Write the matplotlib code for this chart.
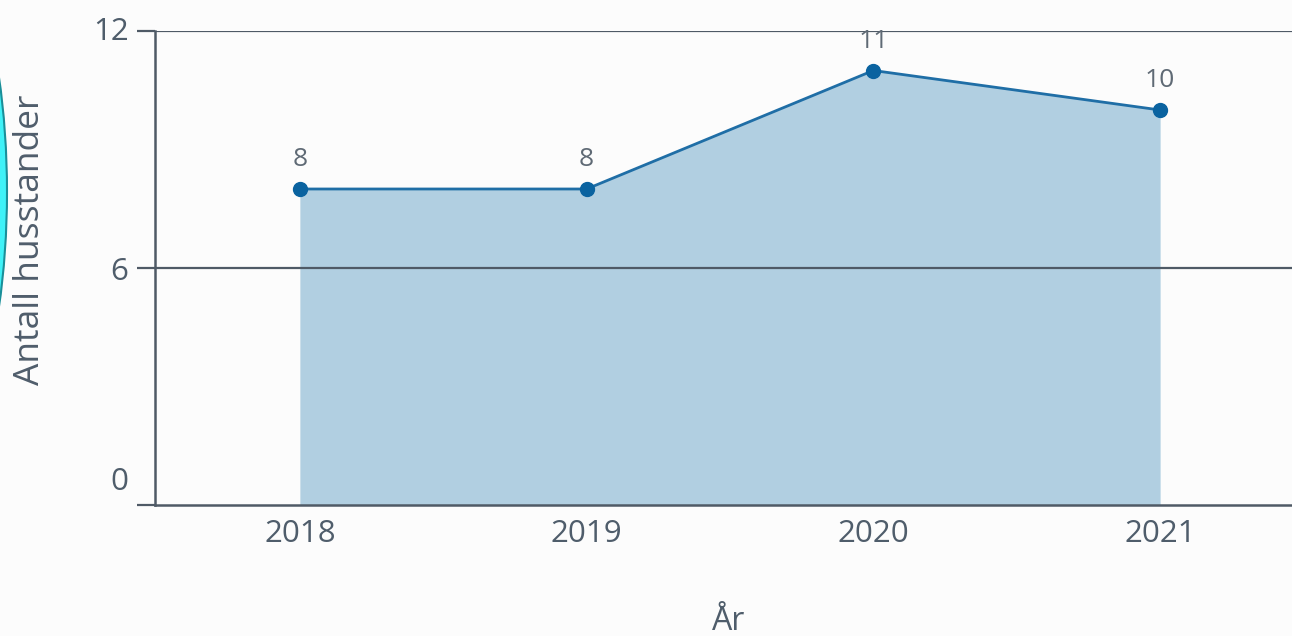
import matplotlib
matplotlib.use("Agg")
import matplotlib.pyplot as plt
from matplotlib.patches import Ellipse
from matplotlib.transforms import ScaledTranslation

years = [2018, 2019, 2020, 2021]
values = [8, 8, 11, 10]
yticks = [0, 6, 12]
ylabel = "Antall husstander"
xlabel = "År"

W, H = 1292, 636
plt.rcParams['font.family'] = ['Open Sans', 'DejaVu Sans']
fig = plt.figure(figsize=(W/100, H/100), dpi=100, facecolor='#fcfcfc')
ax = fig.add_axes([155/W, 1-505/H, 1-155/W, (505-31)/H])
ax.set_facecolor('#fcfcfc')

txt = '#4f5d6b'
grid = '#4f5a66'

ax.fill_between(years, values, 0, color='#b1cfe1', lw=0, zorder=1)
ax.plot(years, values, color='#1f6ea6', lw=2, marker='o', ms=10,
        markerfacecolor='#0a63a0', markeredgecolor='#0a63a0', zorder=3)
for x, v in zip(years, values):
    ax.annotate(str(v), (x, v), xytext=(0, 12), textcoords='offset points',
                ha='center', va='bottom', fontsize=19, color='#5f6a75')

ax.set_xlim(2018 - 145/287, 2021 + 132/287)
ax.set_ylim(0, 12)
ax.set_yticks(yticks)
ax.set_xticks(years)
ax.set_xticklabels([str(y) for y in years])
for yv in yticks[1:]:
    ax.axhline(yv, color=grid, lw=1.6, zorder=2)

for s in ['top', 'right']:
    ax.spines[s].set_visible(False)
ax.spines['left'].set_color(grid)
ax.spines['left'].set_linewidth(1.8)
ax.spines['bottom'].set_color(grid)
ax.spines['bottom'].set_linewidth(1.8)
ax.spines['bottom'].set_zorder(4)
ax.tick_params(axis='y', length=13, width=1.6, color=grid, labelsize=22.5,
               labelcolor=txt, pad=6)
ax.tick_params(axis='x', length=0, labelsize=22.5, labelcolor=txt, pad=10)

# vertical offsets of y tick labels (pixels, upward) as in reference
offsets = {0: 26, 6: 0, 12: 2}
for lab, yv in zip(ax.get_yticklabels(), yticks):
    lab.set_transform(lab.get_transform() +
                      ScaledTranslation(0, offsets[yv]/100, fig.dpi_scale_trans))

fig.text(30/W, 1-240/H, ylabel, rotation=90, ha='center', va='center',
         fontsize=25.5, color=txt)
fig.text(729/W, 1-621/H, xlabel, ha='center', va='center', fontsize=23, color=txt)

# decorative cyan arc at left edge
cx, cy, a, b = -100, 192, 107, 303
fig.add_artist(Ellipse((cx/W, 1-cy/H), 2*a/W, 2*b/H, transform=fig.transFigure,
                       facecolor='#3ff2f8', edgecolor='#1a8f99', lw=1.5))

fig.savefig('out.png', dpi=100, facecolor=fig.get_facecolor())
